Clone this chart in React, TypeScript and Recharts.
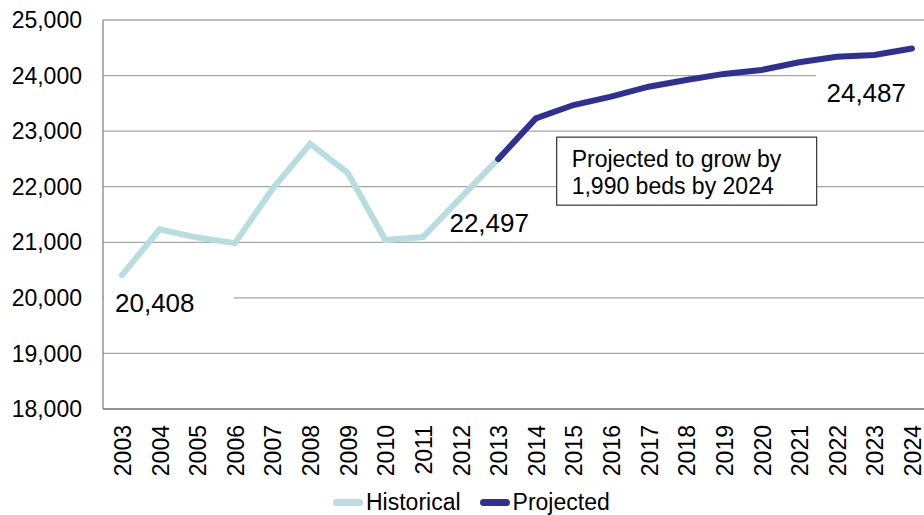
import React from "react"
import { LineChart, Line, XAxis, YAxis, CartesianGrid, Legend, ReferenceDot } from "recharts"

const FONT = '"Liberation Sans", Arial, sans-serif'
const HIST_COLOR = "#B7DDE0"
const PROJ_COLOR = "#2E3192"

const years = [
  "2003", "2004", "2005", "2006", "2007", "2008", "2009", "2010", "2011", "2012", "2013",
  "2014", "2015", "2016", "2017", "2018", "2019", "2020", "2021", "2022", "2023", "2024",
]
// 2003 - 2013
const historical = [20408, 21235, 21085, 20985, 21960, 22770, 22250, 21040, 21095, 21800, 22497]
// 2013 - 2024
const projected = [22497, 23230, 23470, 23620, 23800, 23920, 24030, 24100, 24240, 24340, 24370, 24487]
const yTicks = [18000, 19000, 20000, 21000, 22000, 23000, 24000, 25000]
const noteLines = ["Projected to grow by", "1,990 beds by 2024"]

const projStart = historical.length - 1
const data = years.map((year, i) => ({
  year,
  Historical: i < historical.length ? historical[i] : null,
  Projected: i >= projStart ? projected[i - projStart] : null,
}))

const fmt = (v: number) => v.toLocaleString("en-US")

const YearTick = ({ x, y, payload }: any) => (
  <text
    x={x + 9}
    y={y}
    transform={`rotate(-90, ${x + 9}, ${y})`}
    textAnchor="end"
    fontSize={23}
    fontFamily={FONT}
    fill="#000"
  >
    {payload.value}
  </text>
)

const histLabel = (props: any) => {
  const { x, y, index, value } = props
  if (index === 0) {
    return (
      <g key="l0">
        <rect x={x - 18} y={y + 8} width={130} height={42} fill="#fff" />
        <text x={x - 7} y={y + 37} fontSize={26} fontFamily={FONT} fill="#000">{fmt(value)}</text>
      </g>
    )
  }
  if (index === historical.length - 1) {
    return (
      <text key="l1" x={x - 9} y={y + 73} textAnchor="middle" fontSize={26} fontFamily={FONT} fill="#000">
        {fmt(value)}
      </text>
    )
  }
  return null
}

const projLabel = (props: any) => {
  const { x, y, index, value } = props
  if (index === years.length - 1) {
    return (
      <g key="l2">
        <rect x={x - 96} y={y + 15} width={130} height={46} fill="#fff" />
        <text x={x - 6} y={y + 53} textAnchor="end" fontSize={26} fontFamily={FONT} fill="#000">{fmt(value)}</text>
      </g>
    )
  }
  return null
}

const NoteBox = ({ cx, cy }: any) => {
  if (cx == null || cy == null) return null
  return (
    <g>
      <rect x={cx - 92} y={cy - 34} width={260} height={68} fill="#fff" stroke="#333" strokeWidth={1.2} />
      {noteLines.map((t, i) => (
        <text key={t} x={cx - 77} y={cy - 4 + i * 27} fontSize={23} fontFamily={FONT} fill="#000">{t}</text>
      ))}
    </g>
  )
}

const renderLegend = (props: any) => {
  const { payload } = props
  return (
    <div style={{ display: "flex", alignItems: "center", fontFamily: FONT, fontSize: 23, color: "#000" }}>
      {payload.map((entry: any, i: number) => (
        <div key={entry.value} style={{ display: "flex", alignItems: "center", marginRight: i === 0 ? 19 : 0 }}>
          <span style={{ display: "inline-block", width: 30, height: 7, borderRadius: 4, background: entry.color, marginRight: 3 }} />
          <span>{entry.value}</span>
        </div>
      ))}
    </div>
  )
}

export default function App() {
  return (
    <div style={{ position: "absolute", left: 0, top: 0, width: 924, height: 515, overflow: "hidden", background: "#fff" }}>
      <LineChart width={931} height={515} data={data} margin={{ top: 20, right: 0, left: 0, bottom: 0 }}>
        <CartesianGrid vertical={false} stroke="#A6A6A6" strokeWidth={1.3} />
        <XAxis
          dataKey="year"
          interval={0}
          height={106}
          padding={{ left: 19, right: 19 }}
          tickLine={false}
          tickSize={0}
          tickMargin={16}
          axisLine={{ stroke: "#868686", strokeWidth: 1.3 }}
          tick={<YearTick />}
        />
        <YAxis
          domain={[18000, 25000]}
          ticks={yTicks}
          width={103}
          tickLine={false}
          tickSize={0}
          tickMargin={21}
          tickFormatter={fmt}
          axisLine={{ stroke: "#868686", strokeWidth: 1.3 }}
          tick={{ fontSize: 23, fontFamily: FONT, fill: "#000" }}
          allowDataOverflow
        />
        <ReferenceDot x="2017" y={22280} r={0} shape={<NoteBox />} ifOverflow="visible" />
        <Line
          dataKey="Historical"
          stroke={HIST_COLOR}
          strokeWidth={6}
          strokeLinecap="round"
          dot={false}
          label={histLabel}
          isAnimationActive={false}
        />
        <Line
          dataKey="Projected"
          stroke={PROJ_COLOR}
          strokeWidth={6}
          strokeLinecap="round"
          dot={false}
          label={projLabel}
          isAnimationActive={false}
        />
        <Legend
          layout="horizontal"
          verticalAlign="middle"
          align="center"
          content={renderLegend}
          wrapperStyle={{ left: 333, top: 489, width: "auto" }}
        />
      </LineChart>
    </div>
  )
}
